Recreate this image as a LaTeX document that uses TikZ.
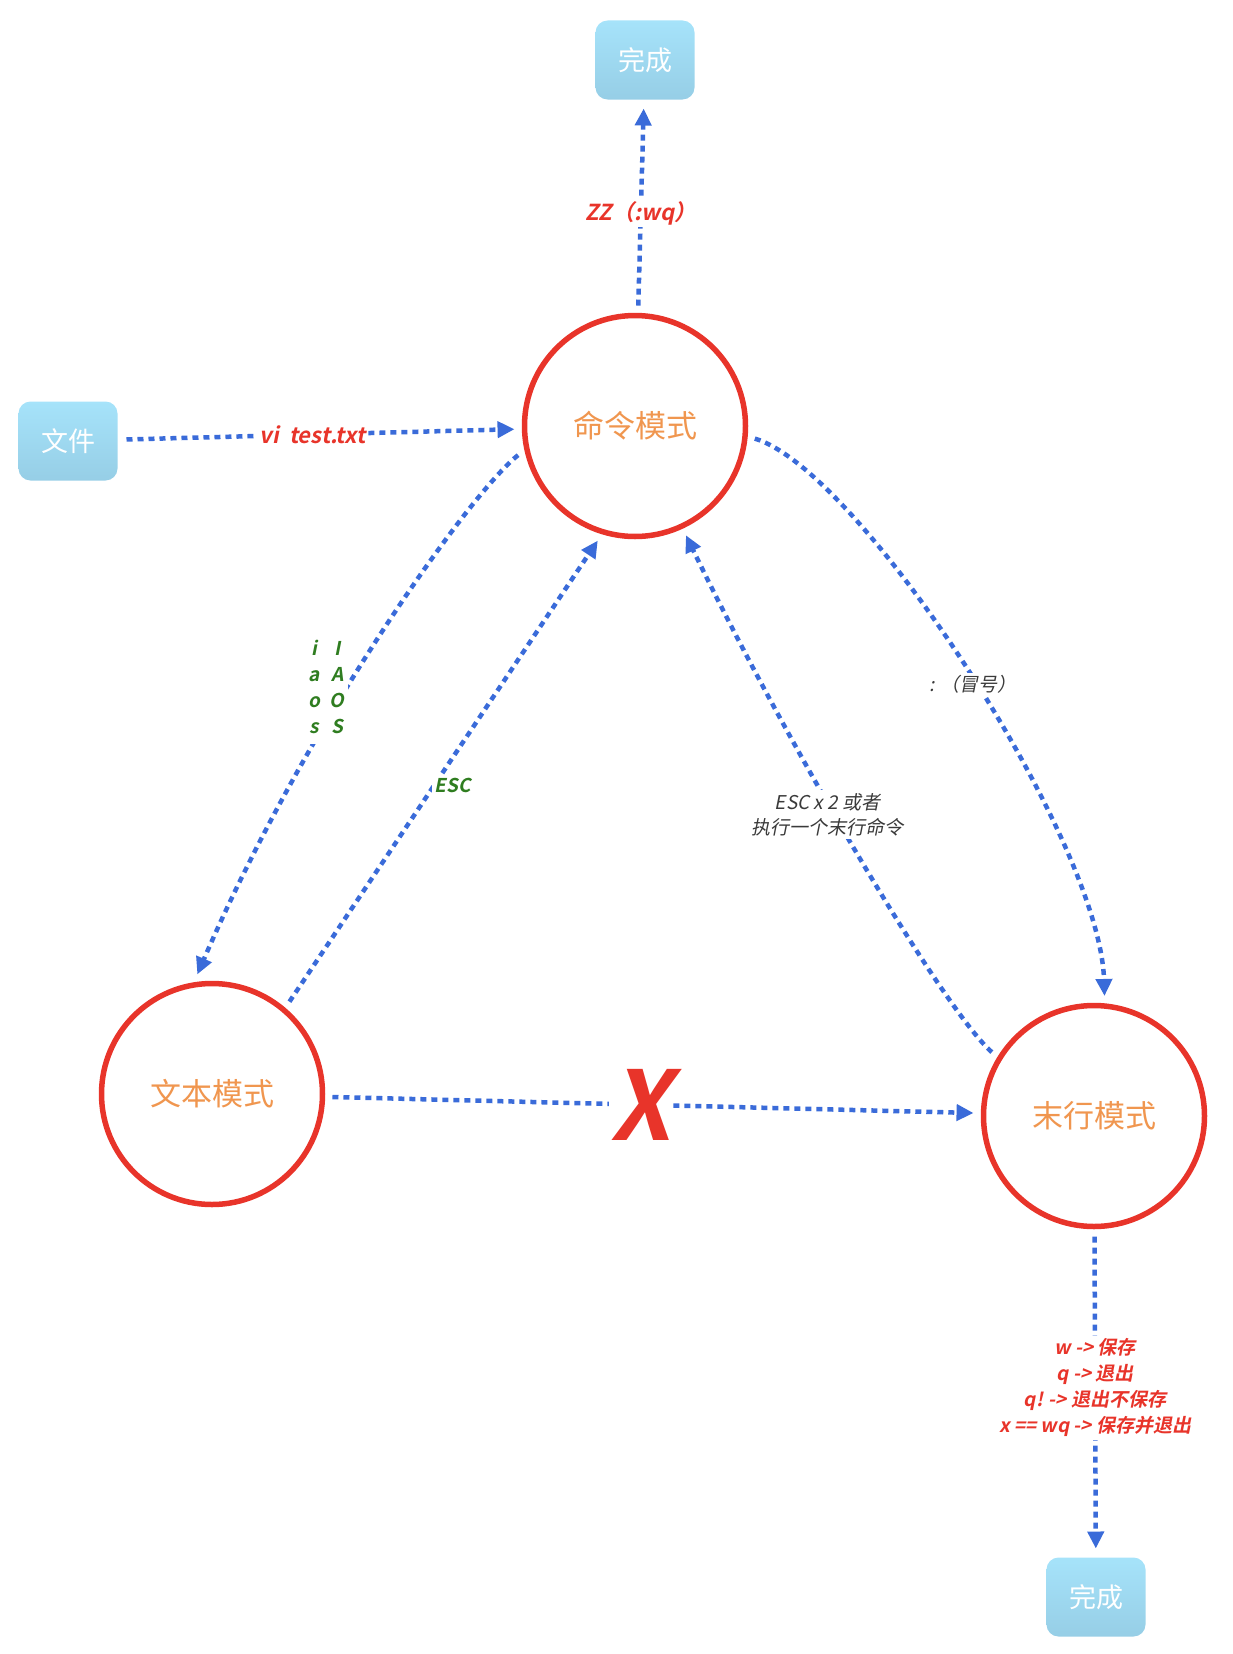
\documentclass[tikz,border=0pt]{standalone}
\usepackage{fontspec}
\setmainfont{Noto Sans CJK SC}[
    BoldFont={Noto Sans CJK SC Bold},
    ItalicFont={Noto Sans CJK SC},
    ItalicFeatures={FakeSlant=0.2},
    BoldItalicFont={Noto Sans CJK SC Bold},
    BoldItalicFeatures={FakeSlant=0.2}]
\usetikzlibrary{arrows.meta}

\definecolor{lineblue}{HTML}{3A6BD9}
\definecolor{modered}{HTML}{E8342A}
\definecolor{modetext}{HTML}{F0964F}
\definecolor{boxtop}{HTML}{A6E3FA}
\definecolor{boxbot}{HTML}{96CEE6}
\definecolor{keygreen}{HTML}{2F7D20}
\definecolor{notegray}{HTML}{3A3A3A}

\begin{document}
\begin{tikzpicture}[
    x=1pt, y=-1pt,
    mode/.style={circle, draw=modered, line width=5.5pt, minimum size=221pt, outer sep=10pt, text=modetext, font=\fontsize{31}{31}\selectfont},
    done/.style={rectangle, rounded corners=12pt, top color=boxtop, bottom color=boxbot, minimum width=99pt, minimum height=79pt, outer sep=9pt, text=white, font=\fontsize{27}{27}\selectfont},
    flow/.style={draw=lineblue, line width=4.5pt, dash pattern=on 6pt off 5pt, -{Triangle[length=17pt, width=16pt]}},
    redkey/.style={fill=white, inner sep=2pt, text=modered, font=\fontsize{22}{22}\selectfont\bfseries\itshape},
    greenkey/.style={fill=white, inner sep=3pt, text=keygreen, font=\fontsize{19}{26}\selectfont\bfseries\itshape},
    note/.style={fill=white, inner sep=3pt, text=notegray, align=center, font=\fontsize{19}{25}\selectfont\itshape}
]
\useasboundingbox (0,0) rectangle (1232,1654);

% Modes
\node[mode] (cmd) at (635,426) {命令模式};
\node[mode] (txt) at (212,1094) {文本模式};
\node[mode] (last) at (1094,1116) {末行模式};

% Start and end boxes
\node[done] (file) at (68,441) {文件};
\node[done] (donetop) at (645,60) {完成};
\node[done] (donebot) at (1096,1597) {完成};

% Into and out of command mode
\draw[flow] (file) -- node[redkey, pos=0.48] {vi\ \ test.txt} (cmd);
\draw[flow] (cmd) -- node[redkey, pos=0.47] {ZZ（:wq）} (donetop);

% Command mode <-> text mode
\draw[flow] (cmd.194.7) .. controls (470,493) and (306,723) .. node[greenkey, pos=0.6, xshift=-17pt, yshift=5pt] {\begin{tabular}{@{}c@{\hspace{10pt}}c@{}} i & I\\ a & A\\ o & O\\ s & S\end{tabular}} (txt.97.5);
\draw[flow] (txt.50.3) -- node[greenkey, pos=0.47, right=-5pt] {ESC} (cmd.252.6);

% Command mode <-> last line mode
\draw[flow] (cmd.354.8) .. controls (860,470) and (1100,840) .. node[note, pos=0.52, xshift=-3pt] {: （冒号）} (last.85.8);
\draw[flow] (last.148.3) .. controls (942,1008) and (785,740) .. node[note, pos=0.565, xshift=-7pt] {ESC x 2 或者\\执行一个末行命令} (cmd.295);

% No way from text mode to last line mode
\draw[flow] (txt) -- node[pos=0.48, fill=white, inner sep=1pt, text=modered, font=\fontsize{96}{96}\selectfont\bfseries\itshape] {X} (last);

% Leaving last line mode
\draw[flow] (last) -- node[note, pos=0.485, text=modered, font=\fontsize{19}{26}\selectfont\bfseries\itshape] {w -> 保存\\q -> 退出\\q! -> 退出不保存\\x == wq -> 保存并退出} (donebot);

\end{tikzpicture}
\end{document}
